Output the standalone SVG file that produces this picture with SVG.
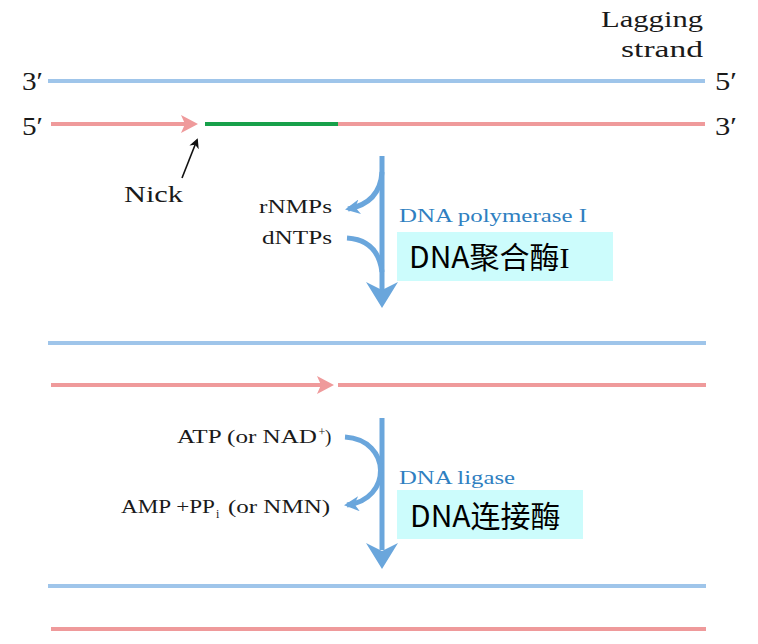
<svg xmlns="http://www.w3.org/2000/svg" width="758" height="644" viewBox="0 0 758 644">
<style>
.blue{stroke:#9fc5ea;stroke-width:4;fill:none}
.pink{stroke:#ef9a9b;stroke-width:4;fill:none}
.green{stroke:#17a04a;stroke-width:4;fill:none}
.big{stroke:#6aa6dc;stroke-width:5;fill:none}
.bighead{fill:#6aa6dc}
.pinkhead{fill:#ef9a9b}
.t{font-family:"Liberation Serif","Times New Roman",serif;fill:#1a1a1a}
.lbl{font-family:"Liberation Serif","Times New Roman",serif;fill:#2f7fc1;font-size:19px}
.cn{font-family:"Noto Sans CJK SC","Noto Sans",sans-serif;fill:#000;font-size:30px}
.box{fill:#ccfcfc}
</style>
<defs>
<marker id="bh" viewBox="0 0 10 10" refX="8" refY="5" markerWidth="15" markerHeight="15" markerUnits="userSpaceOnUse" orient="auto">
<path d="M0,0 L10,5 L0,10 L3,5 z" fill="#6aa6dc"/>
</marker>
<marker id="kh" viewBox="0 0 10 10" refX="8" refY="5" markerWidth="10" markerHeight="10" markerUnits="userSpaceOnUse" orient="auto">
<path d="M0,0 L10,5 L0,10 L3,5 z" fill="#111"/>
</marker>
</defs>
<rect width="758" height="644" fill="#fff"/>

<g id="strands-top">
<line class="blue" x1="48" y1="81" x2="705" y2="81"/>
<line class="pink" x1="51" y1="124" x2="186" y2="124"/>
<polygon class="pinkhead" points="198,124 181,115 185,124 181,133"/>
<line class="green" x1="205" y1="124" x2="338" y2="124"/>
<line class="pink" x1="338" y1="124" x2="705" y2="124"/>
<text class="t" x="22" y="90" font-size="25" textLength="21" lengthAdjust="spacingAndGlyphs">3′</text>
<text class="t" x="22" y="135" font-size="25" textLength="21" lengthAdjust="spacingAndGlyphs">5′</text>
<text class="t" x="715" y="90" font-size="25" textLength="22" lengthAdjust="spacingAndGlyphs">5′</text>
<text class="t" x="715" y="135" font-size="25" textLength="22" lengthAdjust="spacingAndGlyphs">3′</text>
<text class="t" x="601" y="27" font-size="24" textLength="102" lengthAdjust="spacingAndGlyphs">Lagging</text>
<text class="t" x="621" y="57" font-size="24" textLength="82" lengthAdjust="spacingAndGlyphs">strand</text>
</g>

<g id="nick">
<line x1="182" y1="178" x2="197" y2="140" stroke="#111" stroke-width="1.6" marker-end="url(#kh)"/>
<text class="t" x="124" y="202" font-size="24" textLength="59" lengthAdjust="spacingAndGlyphs">Nick</text>
</g>

<g id="connectors">
<line class="big" x1="382" y1="156" x2="382" y2="290"/>
<polygon class="bighead" points="366,282 382,308 398,282 382,290"/>
<path class="big" d="M382,172 Q380,203 348,209" stroke-width="4" marker-end="url(#bh)"/>
<path class="big" d="M347,238 Q378,240 382,272" stroke-width="4"/>
<line class="big" x1="382" y1="418" x2="382" y2="550"/>
<polygon class="bighead" points="366,543 382,569 398,543 382,551"/>
<path class="big" d="M345,437 C392,440 392,500 347,505" stroke-width="4" marker-end="url(#bh)"/>
</g>

<g id="polymerase">
<text class="t" x="259" y="213" font-size="19" textLength="73" lengthAdjust="spacingAndGlyphs">rNMPs</text>
<text class="t" x="262" y="244" font-size="19" textLength="70" lengthAdjust="spacingAndGlyphs">dNTPs</text>
<text class="lbl" x="399" y="222" textLength="188" lengthAdjust="spacingAndGlyphs">DNA polymerase I</text>
<rect class="box" x="397" y="232" width="216" height="49"/>
<text class="cn" x="409" y="268">DNA聚合酶<tspan font-family="Liberation Serif,serif">I</tspan></text>
</g>

<g id="strands-mid">
<line class="blue" x1="48" y1="343" x2="706" y2="343"/>
<line class="pink" x1="51" y1="385" x2="321" y2="385"/>
<polygon class="pinkhead" points="334,385 317,376 321,385 317,394"/>
<line class="pink" x1="338" y1="385" x2="706" y2="385"/>
</g>

<g id="ligase">
<text class="t" x="177" y="443" font-size="19" textLength="140" lengthAdjust="spacingAndGlyphs">ATP (or NAD</text>
<text class="t" x="318.5" y="436" font-size="12">+</text>
<text class="t" x="325" y="443" font-size="19">)</text>
<text class="t" x="121" y="513" font-size="19" textLength="94" lengthAdjust="spacingAndGlyphs">AMP +PP</text>
<text class="t" x="216" y="518" font-size="12">i</text>
<text class="t" x="228" y="513" font-size="19" textLength="102" lengthAdjust="spacingAndGlyphs">(or NMN)</text>
<text class="lbl" x="399" y="484" textLength="116" lengthAdjust="spacingAndGlyphs">DNA ligase</text>
<rect class="box" x="397" y="490" width="186" height="49"/>
<text class="cn" x="410" y="527">DNA连接酶</text>
</g>

<g id="strands-bottom">
<line class="blue" x1="48" y1="586" x2="706" y2="586"/>
<line class="pink" x1="51" y1="629" x2="706" y2="629"/>
</g>
</svg>
